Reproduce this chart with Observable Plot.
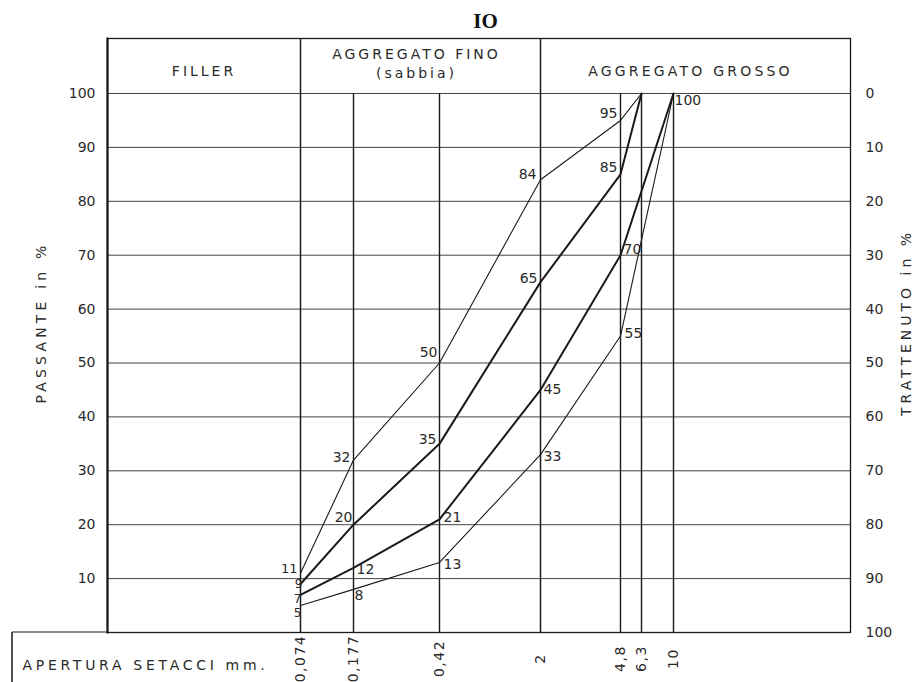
<!DOCTYPE html>
<html>
<head>
<meta charset="utf-8">
<script src="https://cdn.jsdelivr.net/npm/d3@7"></script>
<script src="https://cdn.jsdelivr.net/npm/@observablehq/plot@0.6"></script>
<style>
  body { margin: 0; background: #fff; }
</style>
</head>
<body>
<div id="chart"></div>
<script>
// ---- data ----
const sieves = [0.074, 0.177, 0.42, 2, 4.8, 6.3, 10];
const sieveLabels = ["0,074", "0,177", "0,42", "2", "4,8", "6,3", "10"];
const regionBounds = [0.074, 2];
const innerSieves = [0.177, 0.42, 4.8, 6.3, 10];
const passanteTicks = [10, 20, 30, 40, 50, 60, 70, 80, 90, 100];
const trattenutoTicks = [0, 10, 20, 30, 40, 50, 60, 70, 80, 90, 100];

const upperThinSieves = [0.074, 0.177, 0.42, 2, 4.8, 6.3];
const upperThin = [11, 32, 50, 84, 95, 100];
const upperThickSieves = [0.074, 0.177, 0.42, 2, 4.8, 6.3];
const upperThick = [9, 20, 35, 65, 85, 100];
const lowerThickSieves = [0.074, 0.177, 0.42, 2, 4.8, 10];
const lowerThick = [7, 12, 21, 45, 70, 100];
const lowerThinSieves = [0.074, 0.177, 0.42, 2, 4.8, 10];
const lowerThin = [5, 8, 13, 33, 55, 100];

const regionNames = ["FILLER", "AGGREGATO FINO", "(sabbia)", "AGGREGATO GROSSO"];
const title = "IO";
const yTitleLeft = "PASSANTE in %";
const yTitleRight = "TRATTENUTO in %";
const xTitle = "APERTURA SETACCI mm.";

// ---- styles / layout ----
const W = 917, H = 682;
const M = {left: 107, right: 67, top: 38, bottom: 50};
const xRange = [300, 353, 439, 540, 620, 641, 673];
const yRange = [632, 93];
const xs = d3.scaleLinear(sieves, xRange);
const ink = "#1a1a1a";
const textInk = "#2a2a2a";
const FONT = "DejaVu Sans";

// label placement per point: [textAnchor, dx, dy, fontSize] or null
const series = [
  {s: upperThinSieves, v: upperThin, w: 1.1,
   place: [["end",-3,-4,13],["end",-3,-3,14],["end",-2,-10,14],["end",-4,-5,14],["end",-3,-7,14],null]},
  {s: upperThickSieves, v: upperThick, w: 2,
   place: [["end",2,0,12],["end",-1,-7,14],["end",-3,-4,14],["end",-3,-4,14],["end",-3,-7,14],null]},
  {s: lowerThickSieves, v: lowerThick, w: 2,
   place: [["end",1,4,12],["start",3,2,14],["start",4,-2,14],["start",3,0,14],["start",3,-6,14],["start",1,7,14]]},
  {s: lowerThinSieves, v: lowerThin, w: 1.1,
   place: [["end",1,8,12],["start",1,6,14],["start",4,2,14],["start",3,2,14],["start",4,-3,14],null]}
];

const marks = [];
// grid
marks.push(Plot.ruleY(passanteTicks, {stroke: "#444", strokeWidth: 1}));
// sieve verticals
marks.push(Plot.ruleX(innerSieves, {y1: 0, y2: 100, stroke: ink, strokeWidth: 1.4}));
marks.push(Plot.ruleX(regionBounds, {stroke: ink, strokeWidth: 1.5}));
// frame
marks.push(Plot.frame({stroke: ink, strokeWidth: 1.3}));
marks.push(Plot.frame({anchor: "left", stroke: ink, strokeWidth: 2.2}));
// curves
for (const sr of series) {
  const pts = sr.s.map((s, i) => ({sieve: s, pass: sr.v[i]}));
  marks.push(Plot.line(pts, {x: "sieve", y: "pass", stroke: ink, strokeWidth: sr.w, strokeLinejoin: "miter"}));
  pts.forEach((p, i) => {
    const pl = sr.place[i];
    if (!pl) return;
    marks.push(Plot.text([p], {x: "sieve", y: "pass", text: d => String(d.pass),
      textAnchor: pl[0], dx: pl[1], dy: pl[2], fontSize: pl[3], fill: textInk, fontFamily: FONT}));
  });
}
// axes
marks.push(Plot.axisY({anchor: "left", ticks: passanteTicks, tickSize: 0, tickPadding: 12,
  label: null, fontSize: 14, color: textInk}));
marks.push(Plot.axisY({anchor: "right", ticks: trattenutoTicks.map(t => 100 - t),
  tickFormat: d => String(100 - d), tickSize: 0, tickPadding: 15, label: null, fontSize: 14, color: textInk}));
// bottom sieve labels
marks.push(Plot.text(sieves, {x: d => d, text: (d, i) => sieveLabels[i], frameAnchor: "bottom",
  dy: 26, rotate: -90, fontSize: 14, fill: textInk, textAnchor: "middle", lineAnchor: "middle"}));
// axis titles
marks.push(Plot.text([yTitleLeft], {frameAnchor: "left", dx: -66, dy: -13, rotate: -90, fontSize: 14,
  fill: textInk, textAnchor: "middle", lineAnchor: "middle"}));
marks.push(Plot.text([yTitleRight], {frameAnchor: "right", dx: 56, dy: -13, rotate: -90, fontSize: 14,
  fill: textInk, textAnchor: "middle", lineAnchor: "middle"}));
marks.push(Plot.text([xTitle], {frameAnchor: "bottom-left", dx: -85, dy: 33, textAnchor: "start",
  lineAnchor: "middle", fontSize: 14, fill: textInk}));
// header
const fillerMid = (M.left + xs(regionBounds[0])) / 2;
const finoMid = (xs(regionBounds[0]) + xs(regionBounds[1])) / 2;
const grossoMid = (xs(regionBounds[1]) + (W - M.right)) / 2;
const head = (t, cx, cy) => Plot.text([t], {frameAnchor: "top-left", dx: cx - M.left, dy: cy - M.top,
  textAnchor: "middle", lineAnchor: "middle", fontSize: 14, fill: textInk});
marks.push(head(regionNames[0], fillerMid, 71));
marks.push(head(regionNames[1], finoMid - 4, 54));
marks.push(head(regionNames[2], finoMid - 4, 73));
marks.push(head(regionNames[3], grossoMid - 5, 71));
// title
marks.push(Plot.text([title], {frameAnchor: "top-left", dx: 485 - M.left, dy: 21 - M.top, fontSize: 21,
  textAnchor: "middle", lineAnchor: "middle", fontWeight: "bold", fontFamily: "Liberation Serif", fill: "#111"}));

const plot = Plot.plot({
  width: W, height: H,
  marginLeft: M.left, marginRight: M.right, marginTop: M.top, marginBottom: M.bottom,
  style: {fontFamily: FONT, fontSize: "14px", background: "#fff", overflow: "visible"},
  x: {type: "linear", domain: sieves, range: xRange, axis: null},
  y: {type: "linear", domain: [0, 100], range: yRange, axis: null},
  marks
});

const svg = d3.select(plot);
// letter spacing for the technical lettering
const spacing = new Map([
  [regionNames[0], "3px"], [regionNames[1], "3px"], [regionNames[2], "3px"], [regionNames[3], "3.2px"],
  [yTitleLeft, "4.2px"], [yTitleRight, "4px"], [xTitle, "3.7px"]
]);
svg.selectAll("text").each(function() {
  const t = this.textContent;
  const tr = this.getAttribute("transform") || "";
  if (spacing.has(t)) d3.select(this).style("letter-spacing", spacing.get(t));
  else if (sieveLabels.includes(t) && tr.includes("rotate")) d3.select(this).style("letter-spacing", "1.5px");
});
// bottom label box
const y0 = plot.scale("y").apply(0);
svg.append("line").attr("x1", 12).attr("x2", M.left).attr("y1", y0).attr("y2", y0)
  .attr("stroke", ink).attr("stroke-width", 1.2);
svg.append("line").attr("x1", 12).attr("x2", 12).attr("y1", y0).attr("y2", H)
  .attr("stroke", ink).attr("stroke-width", 1.5);

document.getElementById("chart").appendChild(plot);
</script>
</body>
</html>
